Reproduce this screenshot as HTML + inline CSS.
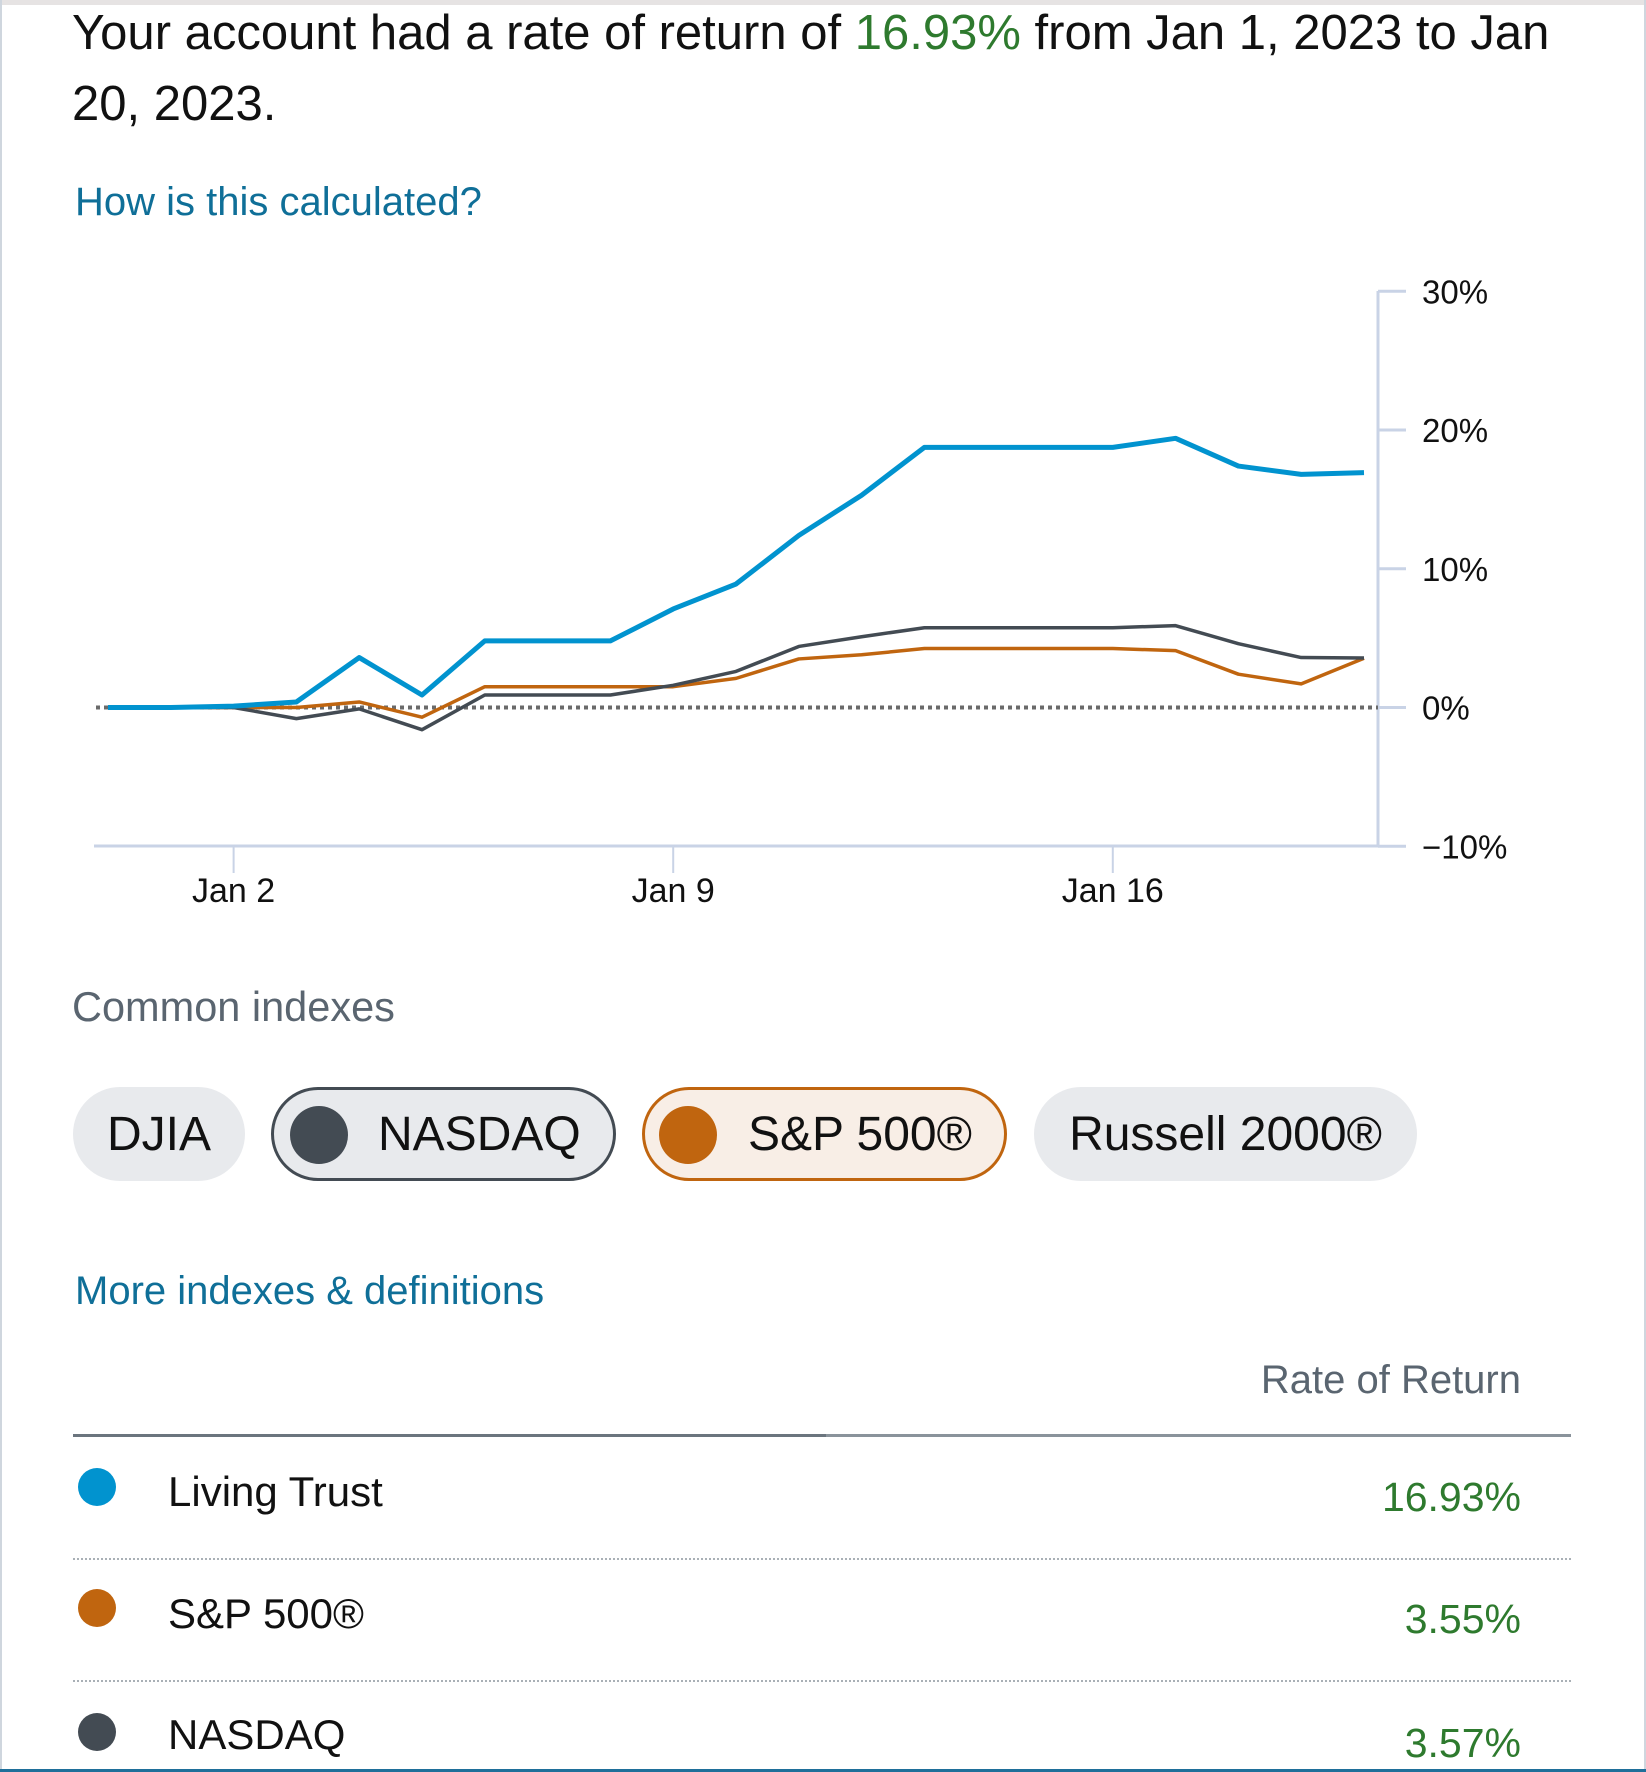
<!DOCTYPE html>
<html><head><meta charset="utf-8"><style>
body{margin:0;width:1646px;height:1772px;background:#fff;position:relative;overflow:hidden;font-family:"Liberation Sans",sans-serif;}
.abs{position:absolute;white-space:nowrap;}
.chip{position:absolute;top:1087px;height:94px;border-radius:47px;background:#e8eaed;box-sizing:border-box;font-size:48px;color:#111;display:flex;align-items:center;white-space:nowrap;}
.dot{position:absolute;border-radius:50%;}
</style></head><body>
<div style="position:absolute;left:0;top:0;width:1646px;height:5px;background:#e6e3e3"></div>
<div style="position:absolute;left:0;top:0;width:2px;height:1772px;background:#cfd6de"></div>
<div style="position:absolute;right:0;top:0;width:2px;height:1772px;background:#cfd6de"></div>
<div class="abs" style="left:72px;top:-2px;font-size:49px;line-height:71px;color:#111">Your account had a rate of return of <span style="color:#2e7a2e">16.93%</span> from Jan 1, 2023 to Jan<br>20, 2023.</div>
<div class="abs" style="left:75px;top:180px;font-size:40px;color:#0f6f98">How is this calculated?</div>
<svg style="position:absolute;left:0;top:0" width="1646" height="960" id="chart"></svg>
<div class="abs" style="left:72px;top:983px;font-size:41.5px;color:#5a6570">Common indexes</div>
<div class="chip" style="left:73px;width:172px;justify-content:center">DJIA</div>
<div class="chip" style="left:271px;width:345px;border:3px solid #434b53;padding-left:104px">NASDAQ<div class="dot" style="left:16px;top:16px;width:58px;height:58px;background:#434b53"></div></div>
<div class="chip" style="left:642px;width:365px;border:3px solid #c0650f;background:#f8eee6;padding-left:103px">S&amp;P 500®<div class="dot" style="left:14px;top:16px;width:58px;height:58px;background:#c0650f"></div></div>
<div class="chip" style="left:1034px;width:383px;justify-content:center">Russell 2000®</div>
<div class="abs" style="left:75px;top:1269px;font-size:40px;color:#0f6f98">More indexes &amp; definitions</div>
<div class="abs" style="right:125px;top:1358px;font-size:40px;color:#5a6570">Rate of Return</div>
<div style="position:absolute;left:73px;top:1434px;width:1498px;height:3px;background:#8a939b"></div>
<div style="position:absolute;left:73px;top:1434px;width:753px;height:3px;background:#6b757e"></div>
<div>
<div class="dot" style="left:78px;top:1468px;width:38px;height:38px;background:#0193cf"></div>
<div class="abs" style="left:168px;top:1468px;font-size:42px;color:#111">Living Trust</div>
<div class="abs" style="right:125px;top:1474px;font-size:41px;color:#2e7a2e">16.93%</div></div>
<div style="position:absolute;left:73px;top:1558px;width:1498px;border-top:2px dotted #a9b0b6"></div>
<div>
<div class="dot" style="left:78px;top:1589px;width:38px;height:38px;background:#c0650f"></div>
<div class="abs" style="left:168px;top:1590px;font-size:42px;color:#111">S&amp;P 500®</div>
<div class="abs" style="right:125px;top:1596px;font-size:41px;color:#2e7a2e">3.55%</div></div>
<div style="position:absolute;left:73px;top:1680px;width:1498px;border-top:2px dotted #a9b0b6"></div>
<div>
<div class="dot" style="left:78px;top:1713px;width:38px;height:38px;background:#434b53"></div>
<div class="abs" style="left:168px;top:1711px;font-size:42px;color:#111">NASDAQ</div>
<div class="abs" style="right:125px;top:1720px;font-size:41px;color:#2e7a2e">3.57%</div></div>
<div style="position:absolute;left:0;top:1769px;width:1646px;height:3px;background:#1f6f9a"></div>
<script>
const days=[0,1,2,3,4,5,6,7,8,9,10,11,12,13,14,15,16,17,18,19,20];
const livingTrust=[0,0,0.1,0.4,3.6,0.9,4.8,4.8,4.8,7.1,8.9,12.4,15.3,18.75,18.75,18.75,18.75,19.4,17.4,16.8,16.93];
const sp500=[0,0,0,0,0.4,-0.7,1.5,1.5,1.5,1.5,2.1,3.5,3.8,4.25,4.25,4.25,4.25,4.1,2.4,1.7,3.55];
const nasdaq=[0,0,0,-0.8,-0.1,-1.6,0.9,0.9,0.9,1.6,2.6,4.4,5.1,5.75,5.75,5.75,5.75,5.9,4.6,3.6,3.57];
const yTicks=[30,20,10,0,-10];
const yTickLabels=["30%","20%","10%","0%","\u221210%"];
const xTickDays=[2,9,16];
const xTickLabels=["Jan 2","Jan 9","Jan 16"];
const svg=document.getElementById('chart');
const NS='http://www.w3.org/2000/svg';
const X=d=>108+d*62.8;
const Y=v=>707.5-v*13.875;
function mk(t,a){const e=document.createElementNS(NS,t);for(const k in a)e.setAttribute(k,a[k]);svg.appendChild(e);return e;}
let e=mk('line',{x1:94,x2:1378,y1:846,y2:846,stroke:'#c9d3e6','stroke-width':3});


e=mk('line',{x1:1378,x2:1378,y1:291,y2:846,stroke:'#c9d3e6','stroke-width':3});


yTicks.forEach((v,i)=>{
 const t=mk('line',{x1:1378,x2:1406,y1:Y(v),y2:Y(v),stroke:'#c9d3e6','stroke-width':3});
 
 
 const l=mk('text',{x:1422,y:Y(v)+12,'font-size':33,fill:'#111','font-family':'Liberation Sans, sans-serif'});
 l.textContent=yTickLabels[i];
 
 
});
xTickDays.forEach((d,i)=>{
 const t=mk('line',{x1:X(d),x2:X(d),y1:846,y2:873,stroke:'#c9d3e6','stroke-width':2});
 
 
 const l=mk('text',{x:X(d),y:902,'font-size':34,fill:'#111','text-anchor':'middle','font-family':'Liberation Sans, sans-serif'});
 l.textContent=xTickLabels[i];
 
 
});
e=mk('line',{x1:96,x2:1378,y1:Y(0),y2:Y(0),stroke:'#6a6a6a','stroke-width':4,'stroke-dasharray':'4 4'});


function series(vals,color,w,name){
 const p=mk('polyline',{points:vals.map((v,i)=>X(days[i])+','+Y(v)).join(' '),fill:'none',stroke:color,'stroke-width':w,'stroke-linejoin':'round'});
 
 
}
series(sp500,'#c0650f',3.5,'sp500-line');
series(nasdaq,'#434b53',3.5,'nasdaq-line');
series(livingTrust,'#0193cf',5,'living-trust-line');
</script>
</body></html>
